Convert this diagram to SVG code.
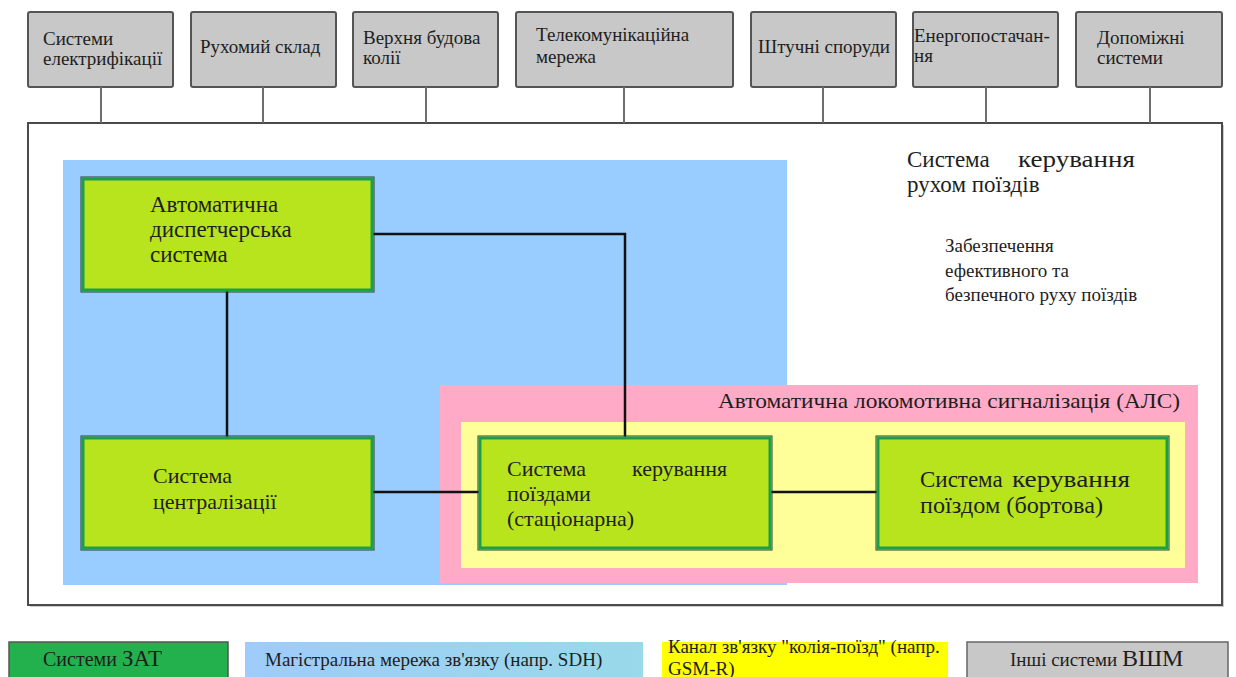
<svg xmlns="http://www.w3.org/2000/svg" width="1236" height="677" viewBox="0 0 1236 677" font-family="'Liberation Serif', 'DejaVu Serif', serif">
  <defs>
    <linearGradient id="legendBlue" x1="0" y1="0" x2="1" y2="0">
      <stop offset="0" stop-color="#9ecbfb"/>
      <stop offset="0.3" stop-color="#9dd0f4"/>
      <stop offset="1" stop-color="#99d9ea"/>
    </linearGradient>
    <style>
      text { fill: #1e1e1e; }
      .top { fill: #c8c8c8; stroke: #555; stroke-width: 2; }
      .stub { stroke: #6e6e6e; stroke-width: 2; fill: none; }
      .t19 { font-size: 19px; }
      .t22 { font-size: 22px; }
      .t23 { font-size: 23px; }
      .green { fill: #b8e41e; stroke: #1d9e49; stroke-width: 3; }
      .gedge { fill: none; stroke: #2e3d2e; stroke-width: 1; }
      .link { stroke: #111; stroke-width: 2.5; fill: none; }
    </style>
  </defs>

  <rect width="1236" height="677" fill="#ffffff"/>

  <!-- Outer systems along the top -->
  <g id="top-electrification">
    <rect class="top" x="28" y="12" width="145" height="75" rx="2"/>
    <text class="t19" x="43" y="45">Системи</text>
    <text class="t19" x="43" y="65">електрифікації</text>
  </g>
  <g id="top-rolling-stock">
    <rect class="top" x="191" y="12" width="145" height="75" rx="2"/>
    <text class="t19" x="200" y="53">Рухомий склад</text>
  </g>
  <g id="top-track">
    <rect class="top" x="353" y="12" width="145" height="75" rx="2"/>
    <text class="t19" x="363" y="44">Верхня будова</text>
    <text class="t19" x="363" y="64">колії</text>
  </g>
  <g id="top-telecom">
    <rect class="top" x="516" y="12" width="217" height="75" rx="2"/>
    <text class="t19" x="536" y="41">Телекомунікаційна</text>
    <text class="t19" x="536" y="63">мережа</text>
  </g>
  <g id="top-structures">
    <rect class="top" x="751" y="12" width="145" height="75" rx="2"/>
    <text class="t19" x="758" y="53">Штучні споруди</text>
  </g>
  <g id="top-power">
    <rect class="top" x="913" y="12" width="145" height="75" rx="2"/>
    <text class="t19" x="914" y="42">Енергопостачан-</text>
    <text class="t19" x="914" y="62">ня</text>
  </g>
  <g id="top-auxiliary">
    <rect class="top" x="1076" y="12" width="146" height="75" rx="2"/>
    <text class="t19" x="1097" y="44">Допоміжні</text>
    <text class="t19" x="1097" y="64">системи</text>
  </g>

  <!-- Main frame: train traffic control system -->
  <g id="frame">
    <rect x="30" y="125" width="1194" height="482" fill="#9a9a9a" opacity="0.5"/>
    <rect x="28" y="123" width="1194" height="482" fill="#ffffff" stroke="#4a4a4a" stroke-width="2"/>
    <text class="t23" x="907" y="167">Система</text>
    <text class="t23" x="1018" y="167" textLength="117" lengthAdjust="spacingAndGlyphs">керування</text>
    <text class="t23" x="907" y="192">рухом поїздів</text>
    <text class="t19" x="945" y="252">Забезпечення</text>
    <text class="t19" x="945" y="277">ефективного та</text>
    <text class="t19" x="945" y="301">безпечного руху поїздів</text>
  </g>

  <!-- Backbone network area -->
  <g id="backbone-area">
    <rect x="63" y="160" width="724" height="425" fill="#99ccff"/>
  </g>

  <!-- Automatic cab signalling area -->
  <g id="als-area">
    <rect x="440" y="385" width="758" height="198" fill="#ffabc8"/>
    <rect x="461" y="422" width="724" height="146" fill="#ffff99"/>
    <text x="718" y="408" font-size="21" textLength="462" lengthAdjust="spacingAndGlyphs">Автоматична локомотивна сигналізація (АЛС)</text>
  </g>

  <!-- Stubs from outer systems to the main frame, and links between nodes -->
  <g id="connectors">
    <path class="stub" d="M101 87V123M263 87V123M426 87V123M624 87V123M823 87V123M986 87V123M1150 87V123"/>
    <path class="link" d="M227 290V438"/>
    <path class="link" d="M372 234H625V438"/>
    <path class="link" d="M372 492H480"/>
    <path class="link" d="M770 492H878"/>
  </g>

  <g id="dispatch">
    <rect class="gedge" x="81" y="177" width="293" height="115"/>
    <rect class="green" x="83" y="179" width="289" height="111"/>
    <text class="t23" x="150" y="212">Автоматична</text>
    <text class="t23" x="150" y="237">диспетчерська</text>
    <text class="t23" x="150" y="262">система</text>
  </g>
  <g id="interlocking">
    <rect class="gedge" x="81" y="436" width="293" height="114"/>
    <rect class="green" x="83" y="438" width="289" height="110"/>
    <text class="t22" x="153" y="483">Система</text>
    <text class="t22" x="153" y="509">централізації</text>
  </g>
  <g id="wayside-control">
    <rect class="gedge" x="478" y="436" width="294" height="114"/>
    <rect class="green" x="480" y="438" width="290" height="110"/>
    <text class="t22" x="507" y="476">Система</text>
    <text class="t22" x="632" y="476">керування</text>
    <text class="t22" x="507" y="501">поїздами</text>
    <text class="t22" x="507" y="526">(стаціонарна)</text>
  </g>
  <g id="onboard-control">
    <rect class="gedge" x="876" y="436" width="293" height="114"/>
    <rect class="green" x="878" y="438" width="289" height="110"/>
    <text class="t23" x="920" y="487">Система</text>
    <text class="t23" x="1012" y="487" textLength="118" lengthAdjust="spacingAndGlyphs">керування</text>
    <text class="t23" x="920" y="513" textLength="183" lengthAdjust="spacingAndGlyphs">поїздом (бортова)</text>
  </g>

  <!-- Legend -->
  <g id="legend-zat">
    <rect x="9" y="642" width="219" height="40" fill="#22b14c" stroke="#555" stroke-width="1.5"/>
    <text x="43" y="666"><tspan font-size="20">Системи </tspan><tspan font-size="23">ЗАТ</tspan></text>
  </g>
  <g id="legend-backbone">
    <rect x="245" y="642" width="398" height="40" fill="url(#legendBlue)"/>
    <text class="t19" x="265" y="666">Магістральна мережа зв'язку (напр. SDH)</text>
  </g>
  <g id="legend-radio">
    <rect x="662" y="642" width="286" height="40" fill="#ffff00"/>
    <text class="t19" x="668" y="653">Канал зв'язку "колія-поїзд" (напр.</text>
    <text class="t19" x="668" y="675">GSM-R)</text>
  </g>
  <g id="legend-other">
    <rect x="967" y="642" width="261" height="40" fill="#c8c8c8" stroke="#666" stroke-width="1.5"/>
    <text x="1010" y="666"><tspan font-size="19">Інші системи </tspan><tspan font-size="24">ВШМ</tspan></text>
  </g>
</svg>
